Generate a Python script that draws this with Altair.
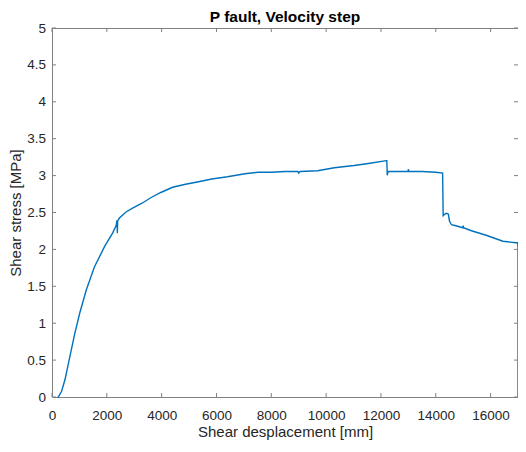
import altair as alt
import pandas as pd

disp = [200, 230, 350, 470, 650, 830, 1010, 1250, 1550, 1920, 2210, 2340, 2370, 2385, 2395,
        2460, 2700, 2940, 3300, 3600, 3970, 4400, 4870, 5300, 5830, 6400, 7040, 7520, 8000,
        8500, 8970, 9000, 9050, 9690, 10300, 11020, 11600, 12200, 12215, 12230, 12260, 12600,
        12990, 13000, 13020, 13500, 14000, 14250, 14270, 14300, 14360, 14420, 14460, 14500,
        14540, 14575, 14700, 14990, 15000, 15010, 15300, 15840, 16450, 16930, 16990, 17000, 17000]
stress = [0.0, 0.0, 0.078, 0.23, 0.545, 0.86, 1.135, 1.45, 1.765, 2.04, 2.22, 2.324, 2.395, 2.22, 2.385,
          2.425, 2.507, 2.558, 2.629, 2.70, 2.771, 2.842, 2.883, 2.913, 2.954, 2.984, 3.025, 3.045, 3.045,
          3.055, 3.055, 3.035, 3.055, 3.066, 3.106, 3.137, 3.167, 3.203, 3.203, 3.005, 3.055, 3.055,
          3.055, 3.086, 3.055, 3.055, 3.045, 3.035, 2.456, 2.466, 2.486, 2.486, 2.476, 2.385,
          2.354, 2.334, 2.324, 2.293, 2.324, 2.293, 2.253, 2.192, 2.11, 2.09, 2.09, 2.019, 0.0]

xticks = [0, 2000, 4000, 6000, 8000, 10000, 12000, 14000, 16000]
yticks = [0, 0.5, 1, 1.5, 2, 2.5, 3, 3.5, 4, 4.5, 5]

W, H = 466, 369
TL = 4
FONT = "Liberation Sans"

df = pd.DataFrame({"d": disp, "s": stress, "i": list(range(len(disp)))})
dfx = pd.DataFrame({"d": xticks})
dfy = pd.DataFrame({"s": yticks})

xs = alt.Scale(domain=[0, 17000], nice=False, zero=False)
ys = alt.Scale(domain=[0, 5], nice=False, zero=False)

xaxis = alt.Axis(values=xticks, title="Shear desplacement [mm]", format="d",
                 labelPadding=11.5, titlePadding=2, labelFlush=False,
                 labelOverlap=False, labelBound=False)
yaxis = alt.Axis(values=yticks, title="Shear stress [MPa]", format="~g",
                 labelPadding=6.5, titlePadding=3, labelFlush=False,
                 labelOverlap=False, labelBound=False)

line = alt.Chart(df).mark_line(color="#0072BD", strokeWidth=1.4, clip=False).encode(
    x=alt.X("d:Q", scale=xs, axis=xaxis),
    y=alt.Y("s:Q", scale=ys, axis=yaxis),
    order=alt.Order("i:Q"),
)

tick_color = "#808080"
bottom = alt.Chart(dfx).mark_rule(color=tick_color, strokeWidth=1).encode(
    x=alt.X("d:Q", scale=xs, axis=xaxis), y=alt.value(H), y2=alt.value(H - TL))
top = alt.Chart(dfx).mark_rule(color=tick_color, strokeWidth=1).encode(
    x=alt.X("d:Q", scale=xs, axis=xaxis), y=alt.value(0), y2=alt.value(TL))
left = alt.Chart(dfy).mark_rule(color=tick_color, strokeWidth=1).encode(
    y=alt.Y("s:Q", scale=ys, axis=yaxis), x=alt.value(0), x2=alt.value(TL))
right = alt.Chart(dfy).mark_rule(color=tick_color, strokeWidth=1).encode(
    y=alt.Y("s:Q", scale=ys, axis=yaxis), x=alt.value(W), x2=alt.value(W - TL))

chart = alt.layer(line, bottom, top, left, right).properties(
    width=W, height=H,
    title=alt.Title("P fault, Velocity step", offset=-4, frame="group"),
    autosize=alt.AutoSizeParams(type="none"),
    padding={"left": 44, "top": 20, "right": 0, "bottom": 43},
).configure_view(
    stroke=tick_color, strokeWidth=1
).configure_axis(
    grid=False, domain=False, ticks=False,
    labelFont=FONT, labelFontSize=13.5, labelColor="#262626",
    titleFont=FONT, titleFontSize=15, titleFontWeight="normal", titleColor="#262626",
).configure_title(
    font=FONT, fontSize=15.5, fontWeight="bold", color="#000000", anchor="middle",
)

chart.save("out.html", embed_options={"renderer": "svg", "actions": False})
